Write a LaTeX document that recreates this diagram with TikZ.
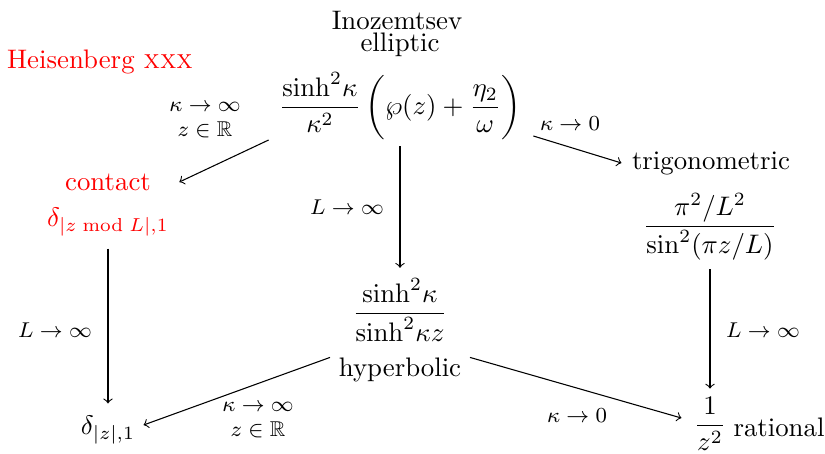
\documentclass[tikz,border=0pt]{standalone}
\usepackage{amsmath,amssymb}
\begin{document}
\begin{tikzpicture}[x=0.3731pt,y=-0.3731pt,
  lbl/.style={font=\footnotesize,inner sep=1pt,align=center},
  txt/.style={inner sep=0pt},
  arr/.style={->}]
\useasboundingbox (0,0) rectangle (825,453);
% nodes
\node[txt] (ino) at (397,20) {Inozemtsev};
\node[txt] (elltxt) at (400,45) {elliptic};
\node[txt] (ell) at (400,106) {$\dfrac{\sinh^2\!\kappa}{\kappa^2}\,\biggl(\wp(z)+\dfrac{\eta_2}{\omega}\biggr)$};
\node[txt,text=red] (heis) at (100,62) {Heisenberg \textsc{xxx}};
\node[txt,text=red] (contxt) at (108,182) {contact};
\node[txt,text=red] (con) at (108,222) {$\delta_{|z \bmod L|,1}$};
\node[txt] (trigtxt) at (711,163) {trigonometric};
\node[txt] (trig) at (710,227) {$\dfrac{\pi^2/L^2}{\sin^2(\pi z/L)}$};
\node[txt] (hyp) at (400,310) {$\dfrac{\sinh^2\!\kappa}{\sinh^2\!\kappa z}$};
\node[txt] (hyptxt) at (400,370) {hyperbolic};
\node[txt] (del) at (108,430) {$\delta_{|z|,1}$};
\node[txt] (rat) at (710,424) {$\dfrac{1}{z^2}$};
\node[txt,anchor=west] (rattxt) at (733,427) {rational};
% arrows
\draw[arr] ([shift={(-10,34)}]ell.west) -- ([shift={(28,0)}]contxt.east);
\draw[arr] ([shift={(0,6)}]ell.south) -- ([shift={(0,-10)}]hyp.north);
\draw[arr] ([shift={(12,30)}]ell.east) -- ([shift={(-10,0)}]trigtxt.west);
\draw[arr] ([shift={(0,12)}]con.south) -- ([shift={(0,-12)}]del.north);
\draw[arr] ([shift={(0,8)}]trig.south) -- ([shift={(0,-8)}]rat.north);
\draw[arr] ([shift={(-70,0)}]hyptxt.north) -- ([shift={(8,-5)}]del.east);
\draw[arr] ([shift={(70,0)}]hyptxt.north) -- ([shift={(-12,-6)}]rat.west);
% labels
\node[lbl] (l1) at (205,120) {$\kappa\to\infty$\\$z\in\mathbb{R}$};
\node[lbl] (l2) at (347,207) {$L\to\infty$};
\node[lbl] (l3) at (570,124) {$\kappa\to0$};
\node[lbl] (l4) at (55,330) {$L\to\infty$};
\node[lbl] (l5) at (763,330) {$L\to\infty$};
\node[lbl] (l6) at (258,420) {$\kappa\to\infty$\\$z\in\mathbb{R}$};
\node[lbl] (l7) at (577,416) {$\kappa\to0$};
\end{tikzpicture}
\end{document}
